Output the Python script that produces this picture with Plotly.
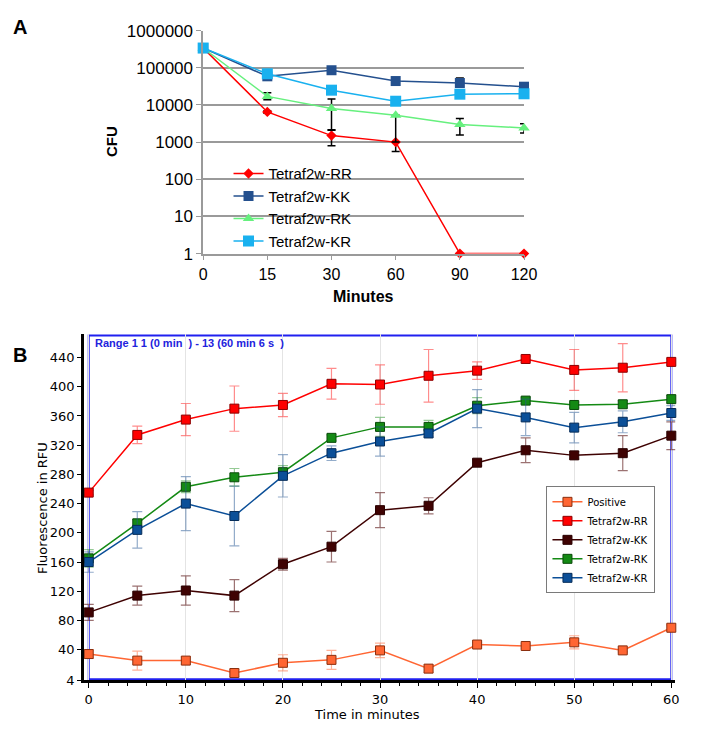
import plotly.graph_objects as go

# ---- panel A data (CFU, log scale) ----
minutes_a = ["0", "15", "30", "60", "90", "120"]
cfu_ticks = [1, 10, 100, 1000, 10000, 100000, 1000000]
cfu_ticktext = ["1", "10", "100", "1000", "10000", "100000", "1000000"]

names_a = ["Tetraf2w-RR", "Tetraf2w-KK", "Tetraf2w-RK", "Tetraf2w-KR"]
rr_a = [340000, 6500, 1500, 1000, 1, 1]
kk_a = [340000, 59000, 86000, 44000, 39000, 31000]
rk_a = [340000, 17000, 8000, 5300, 3000, 2400]
kr_a = [340000, 69000, 25000, 12600, 19500, 20000]

rr_a_plus = [0, 500, 650, 0, 0, 0]
rr_a_minus = [0, 500, 700, 440, 0, 0]
kk_a_plus = [0, 5000, 14000, 3000, 14000, 8000]
kk_a_minus = [0, 5000, 10000, 3000, 5000, 3000]
rk_a_plus = [0, 4300, 6400, 0, 1350, 700]
rk_a_minus = [0, 3100, 5900, 4300, 1450, 630]
kr_a_plus = [0, 0, 0, 0, 0, 0]
kr_a_minus = [0, 0, 0, 0, 0, 0]

# ---- panel B data (fluorescence) ----
time_b = [0, 5, 10, 15, 20, 25, 30, 35, 40, 45, 50, 55, 60]
rfu_ticktext = ["4", "40", "80", "120", "160", "200", "240", "280", "320", "360", "400", "440"]

names_b = ["Positive", "Tetraf2w-RR", "Tetraf2w-KK", "Tetraf2w-RK", "Tetraf2w-KR"]
positive_b = [34, 25, 25, 8, 22, 26, 39, 14, 47, 45, 50, 39, 70]
positive_err = [6, 13, 5, 5, 11, 13, 10, 5, 3, 3, 9, 2, 4]
rr_b = [255, 334, 355, 370, 375, 404, 403, 415, 422, 438, 423, 426, 434]
rr_err = [3, 12, 22, 31, 16, 21, 27, 36, 12, 4, 28, 33, 4]
kk_b = [91, 114, 121, 114, 157, 181, 231, 237, 296, 313, 306, 309, 333]
kk_err = [11, 13, 20, 22, 8, 21, 24, 11, 4, 17, 5, 24, 19]
rk_b = [165, 213, 263, 276, 283, 330, 345, 345, 374, 381, 375, 376, 383]
rk_err = [12, 5, 8, 12, 9, 4, 13, 9, 11, 4, 4, 5, 5]
kr_b = [160, 204, 240, 223, 278, 309, 325, 336, 370, 358, 344, 352, 364]
kr_err = [14, 25, 37, 41, 29, 10, 20, 5, 26, 25, 21, 15, 10]

# the page body keeps its default 8px margin, so the figure is 16px smaller
# than the window and every layout position below is given in window pixels
PAD = 8
W, H = 704 - 2 * PAD, 739 - 2 * PAD


def px(x):
    return (x - PAD) / W


def py(y):
    return 1 - (y - PAD) / H


fig = go.Figure()

# panel A traces
styles_a = [
    ("#ff0000", "diamond", 8),
    ("#24508e", "square", 10),
    ("#66f07e", "triangle-up", 10),
    ("#19b1ef", "square", 11),
]
series_a = [(rr_a, rr_a_plus, rr_a_minus), (kk_a, kk_a_plus, kk_a_minus),
            (rk_a, rk_a_plus, rk_a_minus), (kr_a, kr_a_plus, kr_a_minus)]
for name, (vals, plus, minus), (col, sym, size) in zip(names_a, series_a, styles_a):
    fig.add_trace(go.Scatter(
        x=minutes_a, y=vals, name=name, mode="lines+markers",
        line=dict(color=col, width=1.5),
        marker=dict(color=col, symbol=sym, size=size),
        error_y=dict(type="data", array=plus, arrayminus=minus,
                     color="black", thickness=1.5, width=4),
        cliponaxis=False, xaxis="x", yaxis="y", legend="legend",
    ))

# panel B traces
styles_b = [
    ("#ff6633", "#8a2e0e", "rgba(255,102,51,0.5)"),
    ("#ff0000", "#8c0000", "rgba(255,0,0,0.45)"),
    ("#3f0202", "#2a0000", "rgba(90,20,20,0.6)"),
    ("#148a14", "#0a4a0a", "rgba(20,138,20,0.45)"),
    ("#0b4f98", "#062c58", "rgba(40,90,150,0.5)"),
]
series_b = [(positive_b, positive_err), (rr_b, rr_err), (kk_b, kk_err),
            (rk_b, rk_err), (kr_b, kr_err)]
for name, (vals, err), (col, edge, ecol) in zip(names_b, series_b, styles_b):
    fig.add_trace(go.Scatter(
        x=time_b, y=vals, name=name, mode="lines+markers",
        line=dict(color=col, width=1.5),
        marker=dict(color=col, symbol="square", size=9,
                    line=dict(color=edge, width=1)),
        error_y=dict(type="data", array=err, color=ecol, thickness=1.2, width=5),
        cliponaxis=False, xaxis="x2", yaxis="y2", legend="legend2",
    ))

font_a = "Liberation Sans, Arial, sans-serif"
font_b = "DejaVu Sans, Tahoma, sans-serif"
grey = "#9a9a9a"


def label(text, x, y, size, family, angle=0, color="black", xanchor="center", yanchor="middle"):
    return dict(text=text, x=px(x), y=py(y), xref="paper", yref="paper",
                xanchor=xanchor, yanchor=yanchor, textangle=angle, showarrow=False,
                font=dict(family=family, size=size, color=color))


fig.update_layout(
    width=W, height=H,
    margin=dict(l=0, r=0, t=0, b=0),
    paper_bgcolor="white", plot_bgcolor="white",
    xaxis=dict(domain=[px(204), px(533)], anchor="y", type="category",
               range=[0, 5], showgrid=False, showline=True, linecolor=grey,
               linewidth=1.5, ticks="outside", ticklen=5, tickcolor=grey,
               tickfont=dict(family=font_a, size=16, color="black")),
    yaxis=dict(domain=[py(251), py(22)], anchor="x", type="log", range=[0, 6],
               tickvals=cfu_ticks, ticktext=cfu_ticktext,
               showgrid=True, gridcolor=grey, gridwidth=1.5,
               showline=True, linecolor=grey, linewidth=1.5,
               ticks="outside", ticklen=5, tickcolor=grey,
               tickfont=dict(family=font_a, size=17, color="black")),
    xaxis2=dict(domain=[px(82), px(688)], anchor="y2", range=[-0.47, 60.4],
                tickvals=list(range(0, 61, 10)),
                showgrid=True, gridcolor="#e4e4e4", gridwidth=1,
                showline=True, linecolor="black", linewidth=3,
                ticks="outside", ticklen=5, tickcolor="black", zeroline=False,
                minor=dict(dtick=2, ticklen=3, tickcolor="black", showgrid=False),
                tickfont=dict(family=font_b, size=13, color="black")),
    yaxis2=dict(domain=[py(689), py(334)], anchor="x2", range=[-1.7, 471.6],
                tickvals=[-1.6] + list(range(40, 441, 40)), ticktext=rfu_ticktext,
                showgrid=False, zeroline=False,
                showline=True, linecolor="black", linewidth=3,
                ticks="outside", ticklen=4, tickcolor="black",
                tickfont=dict(family=font_b, size=13, color="black")),
    legend=dict(x=px(230), y=py(152), xanchor="left", yanchor="top",
                bgcolor="rgba(0,0,0,0)", font=dict(family=font_a, size=15, color="black")),
    legend2=dict(x=px(556), y=py(490), xanchor="left", yanchor="top",
                 bgcolor="white", bordercolor="#7a7a7a", borderwidth=1,
                 itemwidth=30,
                 font=dict(family=font_b, size=10, color="black")),
    shapes=[dict(type="rect", xref="x2", x0=0, x1=60,
                 yref="paper", y0=py(688), y1=py(335),
                 line=dict(color="#2020f0", width=2), layer="below")],
    annotations=[
        label("<b>A</b>", 16, 18, 20, font_a),
        label("<b>B</b>", 16, 355, 20, font_a),
        label("<b>CFU</b>", 110, 136, 15, font_a, angle=-90),
        label("<b>Minutes</b>", 368, 295, 16, font_a),
        label("Fluorescence in RFU", 40, 512, 13, font_b, angle=-90),
        label("Time in minutes", 372, 724, 13, font_b),
        label("<b>Range 1 1 (0 min\u00a0 ) - 13 (60 min 6 s\u00a0 )</b>", 91, 343, 11, font_a,
              color="#2222dd", xanchor="left"),
    ],
)

fig.write_html("out.html", config={"displayModeBar": False})
